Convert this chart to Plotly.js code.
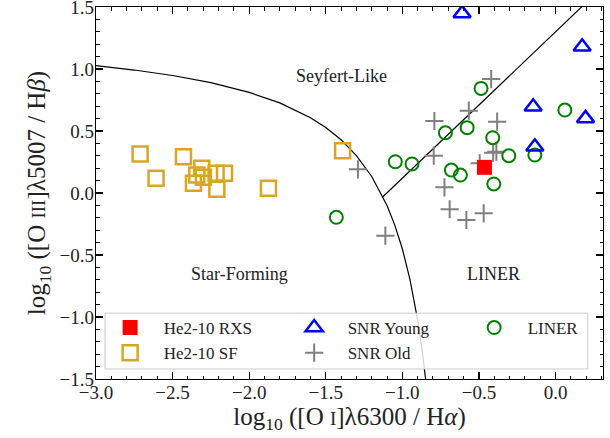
<!DOCTYPE html>
<html>
<head>
<meta charset="utf-8">
<script src="https://cdn.plot.ly/plotly-3.0.1.min.js"></script>
<style>html,body{margin:0;padding:0;background:#fff;}#chart{width:610px;height:438px;}</style>
</head>
<body>
<div id="chart"></div>
<script>
// He2-10 RXS
const rxsX = [-0.464];
const rxsY = [0.207];
// He2-10 SF
const sfX = [-2.712, -2.429, -2.608, -2.309, -2.342, -2.299, -2.364, -2.216, -2.161, -2.211, -1.874, -1.390];
const sfY = [0.315, 0.293, 0.119, 0.199, 0.145, 0.127, 0.078, 0.159, 0.159, 0.030, 0.038, 0.341];
// SNR Young
const youngX = [-0.610, 0.174, -0.146, 0.196, -0.135];
const youngY = [1.449, 1.180, 0.696, 0.602, 0.373];
// SNR Old
const oldX = [-0.420, -0.566, -0.381, -0.407, -0.386, -0.495, -0.725, -0.691, -0.582, -0.469, -0.791, -0.795, -1.290, -1.111];
const oldY = [0.919, 0.664, 0.575, 0.325, 0.333, 0.239, 0.046, -0.131, -0.218, -0.164, 0.581, 0.301, 0.191, -0.344];
// LINER
const linerX = [-0.486, 0.061, -0.719, -0.577, -0.410, -0.305, -0.135, -0.680, -0.621, -0.403, -1.046, -0.937, -1.431];
const linerY = [0.844, 0.669, 0.486, 0.527, 0.446, 0.301, 0.306, 0.185, 0.145, 0.073, 0.252, 0.234, -0.196];
// demarcation curve (star-forming boundary)
const sfCurveX = [-3.0, -2.75, -2.5, -2.25, -2.0, -1.8, -1.6, -1.5, -1.4, -1.3, -1.2, -1.1, -1.05, -1.0, -0.95, -0.9, -0.875, -0.85, -0.845];
const sfCurveY = [1.027, 0.992, 0.948, 0.890, 0.812, 0.727, 0.607, 0.528, 0.429, 0.302, 0.133, -0.101, -0.257, -0.450, -0.698, -1.025, -1.231, -1.478, -1.533];
// Seyfert / LINER dividing line
const divLineX = [-1.127, 0.2];
const divLineY = [-0.030, 1.536];
// region labels
const regionNames = ["Seyfert-Like", "Star-Forming", "LINER"];
const regionX = [-1.40, -2.065, -0.405];
const regionY = [0.94, -0.65, -0.65];
// ticks
const tickVals = [-3.0, -2.5, -2.0, -1.5, -1.0, -0.5, 0.0];
const yTickVals = [-1.5, -1.0, -0.5, 0.0, 0.5, 1.0, 1.5];

const FONT = "'Liberation Serif', 'DejaVu Serif', serif";
const NB = "\u00A0\u00A0";

const traces = [
  {x: sfCurveX, y: sfCurveY, mode: 'lines', line: {color: 'black', width: 1.2}, showlegend: false, hoverinfo: 'skip'},
  {x: divLineX, y: divLineY, mode: 'lines', line: {color: 'black', width: 1.2}, showlegend: false, hoverinfo: 'skip'},
  {x: sfX, y: sfY, mode: 'markers', name: NB + 'He2-10 SF', legend: 'legend', legendrank: 2,
   marker: {symbol: 'square-open', size: 15, color: '#DAA520', line: {width: 2.5, color: '#DAA520'}}},
  {x: oldX, y: oldY, mode: 'markers', name: NB + 'SNR Old', legend: 'legend2', legendrank: 2,
   marker: {symbol: 'cross-thin', size: 13, color: 'gray', line: {width: 2, color: 'gray'}}},
  {x: linerX, y: linerY, mode: 'markers', name: NB + 'LINER', legend: 'legend3', legendrank: 1,
   marker: {symbol: 'circle-open', size: 13, color: 'green', line: {width: 2, color: 'green'}}},
  {x: youngX, y: youngY, mode: 'markers', name: NB + 'SNR Young', legend: 'legend2', legendrank: 1,
   marker: {symbol: 'triangle-up-open', size: 15, color: 'blue', line: {width: 2.5, color: 'blue'}}},
  {x: rxsX, y: rxsY, mode: 'markers', name: NB + 'He2-10 RXS', legend: 'legend', legendrank: 1,
   marker: {symbol: 'square', size: 15, color: 'red', line: {width: 0}}}
];

const annotations = regionNames.map((t, i) => ({
  x: regionX[i], y: regionY[i], xref: 'x', yref: 'y', text: t, showarrow: false,
  font: {family: FONT, size: 18, color: '#222'}
}));

const axisCommon = {
  showline: true, linecolor: 'black', linewidth: 1.3, mirror: 'allticks',
  ticks: 'inside', ticklen: 7, tickwidth: 1.2, tickcolor: 'black',
  showgrid: false, zeroline: false, tickformat: '.1f', ticklabeloverflow: 'allow',
  tickfont: {family: FONT, size: 19, color: '#222'},
  minor: {ticks: 'inside', ticklen: 3.5, tickwidth: 1, tickcolor: 'black', dtick: 0.1, showgrid: false}
};

const legCommon = {
  orientation: 'v', xanchor: 'left', yanchor: 'top', y: 0.1855,
  bgcolor: 'rgba(0,0,0,0)', borderwidth: 0,
  font: {family: FONT, size: 17, color: '#222'},
  itemwidth: 40, traceorder: 'normal'
};

const layout = {
  width: 610, height: 438,
  margin: {l: 96, r: 7, t: 7, b: 59},
  paper_bgcolor: 'white', plot_bgcolor: 'white',
  showlegend: true,
  xaxis: Object.assign({}, axisCommon, {
    range: [-3.0, 0.31], tickvals: tickVals, ticklabelstandoff: -4,
    title: {text: 'log<sub>10</sub> ([O <span style="font-size:19px">I</span>]λ6300 / H<i>α</i>)', font: {family: FONT, size: 25, color: '#222'}, standoff: 4}
  }),
  yaxis: Object.assign({}, axisCommon, {
    range: [-1.5005, 1.5005], tickvals: yTickVals, ticklabelstandoff: -3,
    title: {text: 'log<sub>10</sub> ([O <span style="font-size:19px">III</span>]λ5007 / H<i>β</i>)', font: {family: FONT, size: 25, color: '#222'}, standoff: 6}
  }),
  legend: Object.assign({}, legCommon, {x: 0.018}),
  legend2: Object.assign({}, legCommon, {x: 0.381}),
  legend3: Object.assign({}, legCommon, {x: 0.736}),
  shapes: [{
    type: 'rect', xref: 'paper', yref: 'paper', x0: 0.0178, x1: 0.970, y0: 0.027, y1: 0.177,
    line: {color: '#cccccc', width: 1}, fillcolor: 'rgba(255,255,255,0.82)', layer: 'above'
  }],
  annotations: annotations
};

Plotly.newPlot('chart', traces, layout, {displayModeBar: false, staticPlot: true});
</script>
</body>
</html>
